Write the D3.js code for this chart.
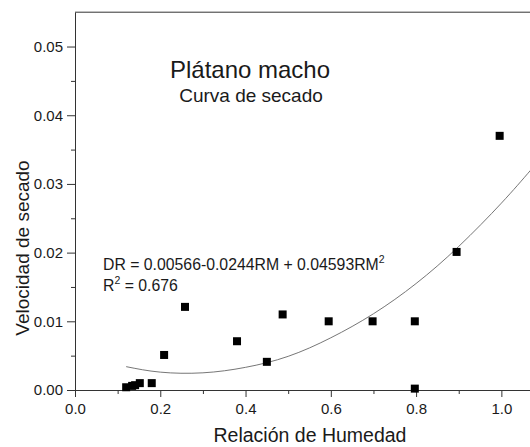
<!DOCTYPE html>
<html><head><meta charset="utf-8">
<script src="https://cdn.jsdelivr.net/npm/d3@7/dist/d3.min.js"></script>
<style>body{margin:0;background:#fff}svg{display:block}text{font-family:"Liberation Sans",Arial,sans-serif;fill:#1a1a1a}</style>
</head><body><svg id="c" width="530" height="447"></svg>
<script>
const rmValues = [0.12, 0.134, 0.141, 0.152, 0.18, 0.209, 0.258, 0.38, 0.45, 0.487, 0.595, 0.698, 0.797, 0.797, 0.895, 0.996];
const drValues = [0.0004, 0.0006, 0.0007, 0.001, 0.001, 0.0051, 0.0121, 0.0071, 0.0041, 0.011, 0.010, 0.010, 0.010, 0.0002, 0.0201, 0.037];
const fitRM = [0.12, 0.2, 0.3, 0.4, 0.5, 0.6, 0.7, 0.8, 0.9, 1.0, 1.07];
const fitDR = [0.0034, 0.0026, 0.0025, 0.0033, 0.0049, 0.0076, 0.0111, 0.0155, 0.0209, 0.0272, 0.0321];
const xTicks = [0, 0.2, 0.4, 0.6, 0.8, 1.0];
const xTickLabels = ["0.0", "0.2", "0.4", "0.6", "0.8", "1.0"];
const yTicks = [0, 0.01, 0.02, 0.03, 0.04, 0.05];
const yTickLabels = ["0.00", "0.01", "0.02", "0.03", "0.04", "0.05"];
const xMinor = [0.1, 0.3, 0.5, 0.7, 0.9];
const yMinor = [0.005, 0.015, 0.025, 0.035, 0.045];
const title = "Plátano macho";
const subtitle = "Curva de secado";
const eqText = "DR = 0.00566-0.0244RM + 0.04593RM";
const r2Text = "0.676";
const xLabel = "Relación de Humedad";
const yLabel = "Velocidad de secado";

const svg = d3.select("#c");
const x = d3.scaleLinear().domain([0, 1.1]).range([75, 544]);
const y = d3.scaleLinear().domain([0, 0.055]).range([390, 12.2]);
const axisColor = "#333";
const ff = '"Liberation Sans",Arial,sans-serif';

// fit curve
const line = d3.line().x(d => x(d[0])).y(d => y(d[1])).curve(d3.curveNatural);
svg.append("path").datum(fitRM.map((r, i) => [r, fitDR[i]]))
  .attr("d", line).attr("fill", "none").attr("stroke", "#666").attr("stroke-width", 0.9);

// frame top
svg.append("line").attr("x1", x(0)).attr("x2", 530).attr("y1", y(0.055)).attr("y2", y(0.055))
  .attr("stroke", axisColor).attr("stroke-width", 1);

// x axis
const gx = svg.append("g").attr("transform", `translate(0,${y(0)})`)
  .call(d3.axisBottom(x).tickValues(xTicks).tickFormat((d, i) => xTickLabels[i]).tickSize(7).tickSizeOuter(0).tickPadding(6));
gx.select(".domain").attr("stroke", axisColor);
gx.selectAll(".tick line").attr("stroke", axisColor);
gx.selectAll(".tick text").attr("font-size", 15).attr("fill", "#222").style("font-family", ff);
svg.append("g").attr("transform", `translate(0,${y(0)})`)
  .call(d3.axisBottom(x).tickValues(xMinor).tickFormat("").tickSize(4).tickSizeOuter(0))
  .call(g => g.select(".domain").remove()).selectAll("line").attr("stroke", axisColor);

// y axis
const gy = svg.append("g").attr("transform", `translate(${x(0)},0)`)
  .call(d3.axisLeft(y).tickValues(yTicks).tickFormat((d, i) => yTickLabels[i]).tickSize(8).tickSizeOuter(0).tickPadding(4));
gy.select(".domain").attr("stroke", axisColor);
gy.selectAll(".tick line").attr("stroke", axisColor);
gy.selectAll(".tick text").attr("font-size", 15).attr("fill", "#222").style("font-family", ff);
svg.append("g").attr("transform", `translate(${x(0)},0)`)
  .call(d3.axisLeft(y).tickValues(yMinor).tickFormat("").tickSize(4).tickSizeOuter(0))
  .call(g => g.select(".domain").remove()).selectAll("line").attr("stroke", axisColor);
gx.raise(); gy.raise();

// points
svg.append("g").selectAll("rect").data(rmValues.map((r, i) => [r, drValues[i]])).join("rect")
  .attr("x", d => x(d[0]) - 4).attr("y", d => y(d[1]) - 4).attr("width", 8).attr("height", 8).attr("fill", "#000");

// texts
svg.append("text").attr("x", 250).attr("y", 78).attr("text-anchor", "middle").attr("font-size", 24).text(title);
svg.append("text").attr("x", 251).attr("y", 102).attr("text-anchor", "middle").attr("font-size", 19).text(subtitle);
const eq = svg.append("text").attr("x", 103).attr("y", 270).attr("font-size", 15.8);
eq.append("tspan").text(eqText);
eq.append("tspan").attr("font-size", 10.5).attr("dy", -7).text("2");
const r2 = svg.append("text").attr("x", 103).attr("y", 291).attr("font-size", 15.8);
r2.append("tspan").text("R");
r2.append("tspan").attr("font-size", 10.5).attr("dy", -7).text("2");
r2.append("tspan").attr("dy", 7).text(" = " + r2Text);

svg.append("text").attr("x", 310).attr("y", 442).attr("text-anchor", "middle").attr("font-size", 19.5).text(xLabel);
svg.append("text").attr("transform", "translate(29,248) rotate(-90)").attr("text-anchor", "middle").attr("font-size", 19).text(yLabel);
</script></body></html>
